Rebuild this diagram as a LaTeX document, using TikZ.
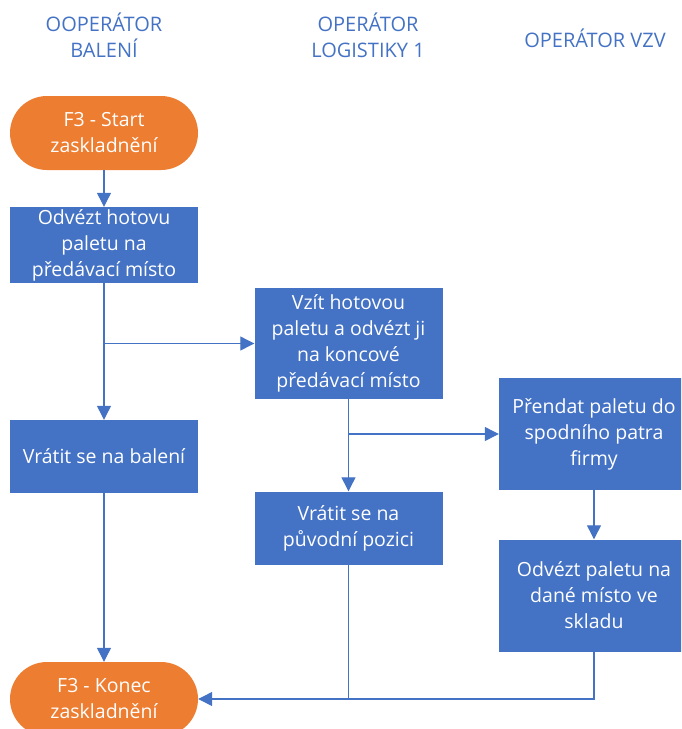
\documentclass[tikz,border=0pt]{standalone}
\usepackage{fontspec}
\setmainfont{Open Sans}
\usepackage{tikz}
\usetikzlibrary{arrows.meta, positioning}
\definecolor{officeblue}{RGB}{68, 114, 196}
\definecolor{officeorange}{RGB}{237, 125, 49}

\begin{document}
\begin{tikzpicture}[x=1pt, y=-1pt,
    block/.style={rectangle, fill=officeblue, text=white, align=center, minimum width=188pt, inner sep=0pt, font=\fontsize{19.5}{26}\selectfont},
    term/.style={block, fill=officeorange, rounded corners=37pt, minimum height=74pt},
    header/.style={text=officeblue, align=center, font=\fontsize{20}{26}\selectfont},
    line/.style={draw=officeblue, line width=1.2pt, -{Triangle[width=14pt,length=14pt]}},
    plain/.style={draw=officeblue, line width=1.2pt}]

    \clip (0,0) rectangle (681,729);

    % lane headers
    \node [header] (hbal) at (104,35) {OOPERÁTOR\\BALENÍ};
    \node [header] (hlog) at (368,35) {OPERÁTOR\\LOGISTIKY 1};
    \node [header] (hvzv) at (595,38) {OPERÁTOR VZV};

    % steps
    \node [term] (start) at (104,133) {F3 - Start\\zaskladnění};
    \node [block, minimum height=76pt] (odvezt) at (104,245) {Odvézt hotovu\\paletu na\\předávací místo};
    \node [block, minimum height=73pt] (vratit) at (104,456.5) {Vrátit se na balení};
    \node [block, minimum height=111pt] (vzit) at (348.5,343.5) {Vzít hotovou\\paletu a odvézt ji\\na koncové\\předávací místo};
    \node [block, minimum height=73pt] (navrat) at (348.5,528) {Vrátit se na\\původní pozici};
    \node [block, minimum width=190pt, minimum height=112pt] (prendat) at (594,434) {Přendat paletu do\\spodního patra\\firmy};
    \node [block, minimum width=190pt, minimum height=112pt] (odvoz) at (594,595.5) {Odvézt paletu na\\dané místo ve\\skladu};
    \node [term] (konec) at (104,699) {F3 - Konec\\zaskladnění};

    \coordinate (j1) at (odvezt.south |- vzit.west);
    \coordinate (j2) at (vzit.south |- prendat.west);
    \coordinate (j3) at (navrat.south |- konec.east);

    \path [line] (start) -- (odvezt);
    \path [line] (odvezt) -- (vratit);
    \path [line] (j1) -- (vzit.west);
    \path [line] (vzit) -- (navrat);
    \path [line] (j2) -- (prendat.west);
    \path [line] (prendat) -- (odvoz);
    \path [line] (vratit) -- (konec);
    \path [plain] (navrat) -- (j3);
    \path [line] (odvoz.south) |- (konec.east);
\end{tikzpicture}
\end{document}
